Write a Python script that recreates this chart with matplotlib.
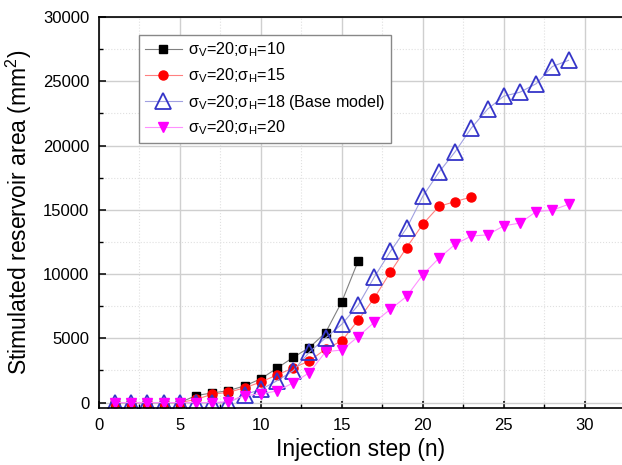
import matplotlib
matplotlib.use("Agg")
import matplotlib.pyplot as plt
from matplotlib.ticker import MultipleLocator

plt.rcParams['font.family'] = ['Liberation Sans', 'DejaVu Sans']
plt.rcParams['mathtext.fontset'] = 'custom'
plt.rcParams['mathtext.rm'] = 'Liberation Sans'
plt.rcParams['mathtext.it'] = 'Liberation Sans'

# injection steps and stimulated area (mm^2) for each stress case
steps_h10 = list(range(1, 17))
area_h10 = [0, 0, 0, 0, 0, 550, 750, 930, 1300, 1850, 2680, 3520, 4280, 5450, 7850, 10990]

steps_h15 = list(range(1, 24))
area_h15 = [0, 0, 0, 0, 0, 250, 650, 800, 1150, 1600, 2150, 2700, 3240, 4170, 4800,
            6400, 8130, 10150, 12060, 13880, 15270, 15640, 16000]

steps_h18 = list(range(1, 30))
area_h18 = [0, 0, 0, 0, 0, 0, 0, 0, 620, 1020, 1700, 2480, 3930, 5030, 6100, 7560,
            9760, 11760, 13570, 16050, 17930, 19520, 21370, 22830, 23840, 24150,
            24810, 26150, 26630]

steps_h20 = list(range(1, 30))
area_h20 = [0, 0, 0, 0, 0, 0, 0, 80, 540, 680, 900, 1540, 2330, 3960, 4090, 5120,
            6250, 7260, 8260, 9950, 11240, 12320, 12960, 13050, 13750, 13970, 14860,
            14970, 15430]

labels = [r'σ$_\mathrm{V}$=20;σ$_\mathrm{H}$=10',
          r'σ$_\mathrm{V}$=20;σ$_\mathrm{H}$=15',
          r'σ$_\mathrm{V}$=20;σ$_\mathrm{H}$=18 (Base model)',
          r'σ$_\mathrm{V}$=20;σ$_\mathrm{H}$=20']

fig = plt.figure(figsize=(6.22, 4.65), dpi=100)
ax = fig.add_axes([0.159, 0.1226, 0.841, 0.8408])

ax.plot(steps_h10, area_h10, color='#808080', lw=0.8, marker='s', ms=5.5,
        mfc='black', mec='black', label=labels[0])
ax.plot(steps_h15, area_h15, color='#ff8080', lw=0.8, marker='o', ms=6.5,
        mfc='#ff0000', mec='#ff0000', label=labels[1])
ax.plot(steps_h18, area_h18, color='#a0a0e0', lw=0.8, marker='^', ms=11,
        mfc='none', mec='#3535c8', mew=1.3, label=labels[2])
ax.plot(steps_h20, area_h20, color='#ff90ff', lw=0.8, marker='v', ms=7,
        mfc='#ff00ff', mec='#ff00ff', label=labels[3])

ax.set_xlim(0, 32.3)
ax.set_ylim(-420, 30000)
ax.xaxis.set_major_locator(MultipleLocator(5))
ax.xaxis.set_minor_locator(MultipleLocator(2.5))
ax.yaxis.set_major_locator(MultipleLocator(5000))
ax.yaxis.set_minor_locator(MultipleLocator(2500))

ax.grid(which='major', color='#cfcfcf', lw=1.0)
ax.grid(which='minor', color='#e0e0e0', lw=0.8, ls=':')
ax.set_axisbelow(True)

ax.tick_params(which='major', direction='in', length=5, width=1.1, labelsize=12, pad=7)
ax.tick_params(which='minor', direction='in', length=3, width=1.0)
ax.tick_params(top=False, right=False, which='both')
for side in ('left', 'bottom', 'top'):
    ax.spines[side].set_linewidth(1.2)
ax.spines['right'].set_visible(False)

ax.set_xlabel('Injection step (n)', fontsize=16.5, labelpad=4)
ax.set_ylabel('Stimulated reservoir area (mm$^\\mathrm{2}$)', fontsize=16.5, labelpad=6)

leg = ax.legend(loc='upper left', bbox_to_anchor=(0.0765, 0.954), borderaxespad=0,
                fontsize=11.6, fancybox=False, edgecolor='#888888', framealpha=1,
                handlelength=2.3, labelspacing=0.45, borderpad=0.35, handletextpad=0.4)
leg.get_frame().set_linewidth(1.0)

fig.savefig('out.png', dpi=100)
